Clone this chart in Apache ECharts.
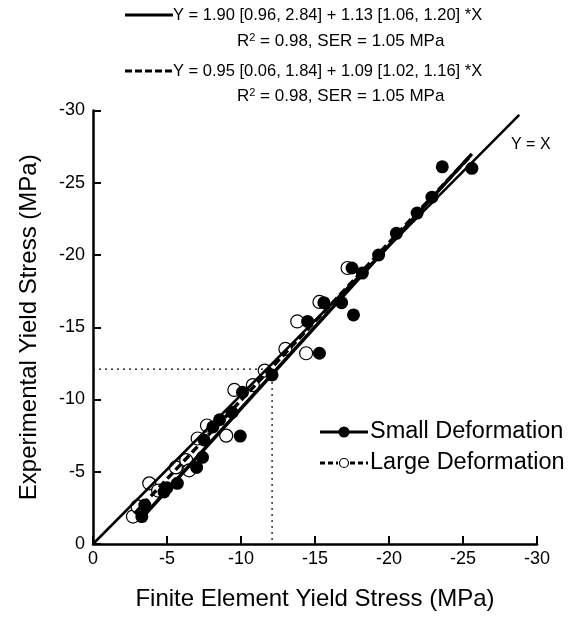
<!DOCTYPE html>
<html><head><meta charset="utf-8">
<script src="https://cdn.jsdelivr.net/npm/echarts@6/dist/echarts.min.js"></script>
<style>html,body{margin:0;padding:0;background:#fff}#c{width:568px;height:623px}</style>
</head><body><div id="c"></div>
<script>
// Small Deformation (filled) points: [FE, Experimental]
const smallX = [-3.3,-3.5,-4.8,-5.0,-5.7,-7.0,-7.4,-7.5,-8.1,-8.55,-9.4,-9.95,-10.1,-12.1,-14.5,-15.3,-15.6,-16.8,-17.6,-17.5,-18.2,-19.3,-20.5,-21.9,-22.9,-23.6,-25.6];
const smallY = [-1.9,-2.7,-3.6,-3.9,-4.2,-5.3,-6.0,-7.2,-8.1,-8.6,-9.1,-7.47,-10.5,-11.7,-15.4,-13.2,-16.7,-16.7,-15.85,-19.1,-18.75,-20.0,-21.5,-22.9,-24.0,-26.1,-26.0];
// Large Deformation (open) points
const largeX = [-2.7,-3.0,-3.8,-4.4,-5.6,-6.3,-6.5,-7.07,-7.7,-9.0,-9.55,-10.8,-11.6,-13.0,-13.8,-14.4,-15.3,-17.2];
const largeY = [-1.9,-2.6,-4.2,-3.7,-5.3,-5.8,-5.1,-7.3,-8.2,-7.5,-10.66,-11.0,-12.0,-13.5,-15.4,-13.2,-16.75,-19.1];
// lines (endpoints)
const identityX = [0,-28.8], identityY = [0,-29.7];
const smallFitX = [-3.3,-25.6], smallFitY = [-1.8,-27.0];
const largeFitX = [-2.8,-25.5], largeFitY = [-2.1,-26.85];
const refValue = -12.1;
const eq1 = 'Y = 1.90 [0.96, 2.84] + 1.13 [1.06, 1.20] *X';
const eq2 = 'Y = 0.95 [0.06, 1.84] + 1.09 [1.02, 1.16] *X';
const stat1 = ' = 0.98, SER = 1.05 MPa';
const stat2 = ' = 0.98, SER = 1.05 MPa';
const xTitle = 'Finite Element Yield Stress (MPa)';
const yTitle = 'Experimental Yield Stress (MPa)';
const legendNames = ['Small Deformation','Large Deformation'];

const zip = (a,b)=>a.map((v,i)=>[v,b[i]]);
const F = '"Liberation Sans", Arial, Helvetica, sans-serif';
const chart = echarts.init(document.getElementById('c'), null, {renderer:'canvas'});
const axisCommon = {
  type:'value', min:-30, max:0, interval:5, inverse:true,
  axisLine:{show:true, onZero:false, lineStyle:{color:'#000', width:2.5}},
  axisTick:{show:true, inside:true, length:8, lineStyle:{color:'#000', width:2}},
  axisLabel:{color:'#000', fontSize:18, fontFamily:F},
  splitLine:{show:false},
  nameLocation:'middle', nameTextStyle:{color:'#000', fontSize:24, fontFamily:F}
};
const eqText = (y, eq, isDash) => ([
  {type:'line', shape:{x1:125,y1:y,x2:173,y2:y}, style:{stroke:'#000', lineWidth:3, lineDash: isDash?[7,3]:null}},
  {type:'text', x:173, y:y, style:{text:eq, font:'16.5px '+F, fill:'#000', verticalAlign:'middle'}}
]);
const rText = (y, s) => ({type:'text', x:237, y:y, style:{
  text:'{a|R}{s|2}{a|'+s+'}', verticalAlign:'middle', fill:'#000',
  rich:{a:{fontSize:17, fontFamily:F, fill:'#000'}, s:{fontSize:11, fontFamily:F, fill:'#000', verticalAlign:'top', padding:[0,0,7,0]}}
}});
chart.setOption({
  animation:false,
  backgroundColor:'#fff',
  grid:{left:93, right:31, top:110.5, bottom:79, containLabel:false},
  xAxis:Object.assign({}, axisCommon, {name:xTitle, nameGap:43, axisLabel:Object.assign({}, axisCommon.axisLabel, {margin:6})}),
  yAxis:Object.assign({}, axisCommon, {name:yTitle, nameGap:52, axisLabel:Object.assign({}, axisCommon.axisLabel, {margin:8})}),
  graphic:[
    ...eqText(15, eq1, false), rText(41, stat1),
    ...eqText(71, eq2, true), rText(96, stat2),
    {type:'text', x:511, y:145, style:{text:'Y = X', font:'16px '+F, fill:'#000', verticalAlign:'middle'}},
    {type:'line', shape:{x1:320,y1:432,x2:368,y2:432}, style:{stroke:'#000', lineWidth:3}},
    {type:'circle', shape:{cx:344,cy:432,r:5.5}, style:{fill:'#000'}},
    {type:'text', x:370, y:432, style:{text:legendNames[0], font:'23.5px '+F, fill:'#000', verticalAlign:'middle'}},
    {type:'line', shape:{x1:320,y1:463,x2:338,y2:463}, style:{stroke:'#000', lineWidth:3, lineDash:[5,3]}},
    {type:'line', shape:{x1:350,y1:463,x2:368,y2:463}, style:{stroke:'#000', lineWidth:3, lineDash:[5,3]}},
    {type:'circle', shape:{cx:344,cy:463,r:4.5}, style:{fill:'#fff', stroke:'#000', lineWidth:1.2}},
    {type:'text', x:370, y:463, style:{text:legendNames[1], font:'23.5px '+F, fill:'#000', verticalAlign:'middle'}}
  ],
  series:[
    {type:'line', data:[[0,refValue],[refValue,refValue],[refValue,0]], symbol:'none', silent:true,
     lineStyle:{color:'#000', width:1.2, type:[2,4]}},
    {type:'line', data:zip(identityX, identityY), symbol:'none', lineStyle:{color:'#000', width:2.5}},
    {type:'scatter', name:legendNames[1], data:zip(largeX, largeY), symbol:'circle', symbolSize:13,
     itemStyle:{color:'#fff', borderColor:'#000', borderWidth:1.2, opacity:1}},
    {type:'scatter', name:legendNames[0], data:zip(smallX, smallY), symbol:'circle', symbolSize:13,
     itemStyle:{color:'#000', opacity:1}},
    {type:'line', data:zip(largeFitX, largeFitY), symbol:'none', lineStyle:{color:'#000', width:3.5, type:[8,4]}},
    {type:'line', data:zip(smallFitX, smallFitY), symbol:'none', lineStyle:{color:'#000', width:3.5}}
  ]
});
</script></body></html>
